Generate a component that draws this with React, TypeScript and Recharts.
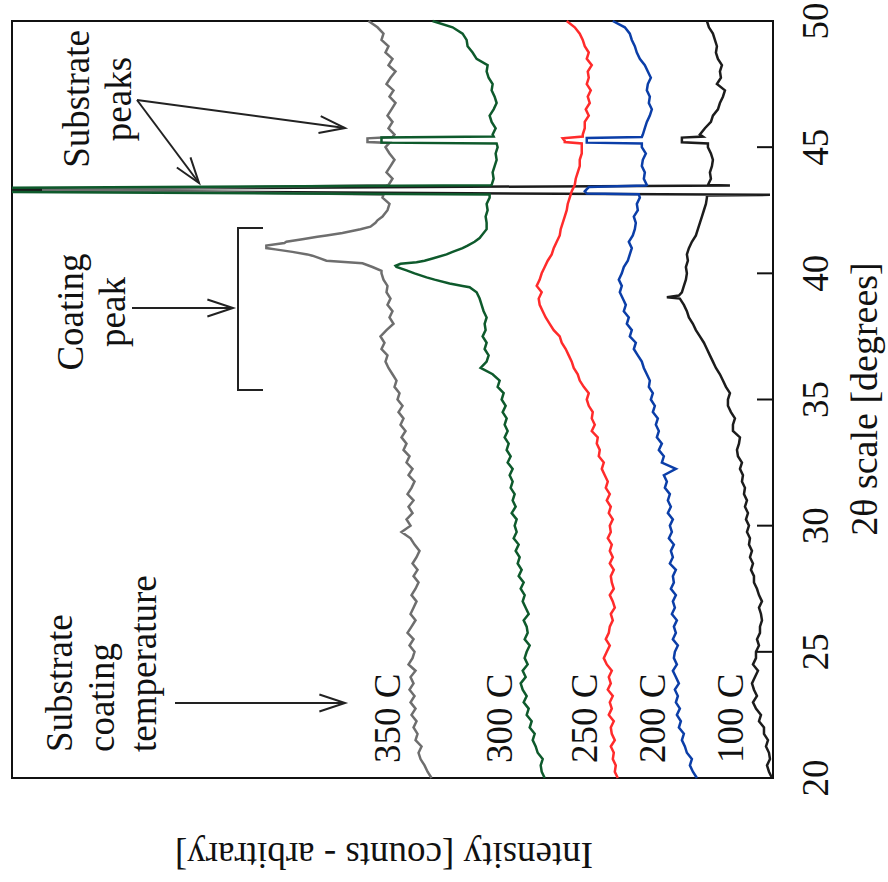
import React from 'react';
import { LineChart, Line, XAxis, YAxis, ReferenceArea } from 'recharts';

// 2θ grid (degrees) shared by every scan
const angles = [
  20, 20.25, 20.5, 20.75, 21, 21.25, 21.5, 21.75,
  22, 22.25, 22.5, 22.75, 23, 23.25, 23.5, 23.75,
  24, 24.25, 24.5, 24.75, 25, 25.25, 25.5, 25.75,
  26, 26.25, 26.5, 26.75, 27, 27.25, 27.5, 27.75,
  28, 28.25, 28.5, 28.75, 29, 29.25, 29.5, 29.75,
  30, 30.25, 30.5, 30.75, 31, 31.25, 31.5, 31.75,
  32, 32.25, 32.5, 32.75, 33, 33.25, 33.5, 33.75,
  34, 34.25, 34.5, 34.75, 35, 35.25, 35.5, 35.75,
  36, 36.25, 36.5, 36.75, 37, 37.25, 37.5, 37.75,
  38, 38.25, 38.5, 38.75, 39, 39.25, 39.5, 39.75,
  40, 40.25, 40.5, 40.75, 41, 41.25, 41.5, 41.75,
  42, 42.25, 42.5, 42.75, 43, 43.25, 43.5, 43.75,
  44, 44.25, 44.5, 44.75, 45, 45.25, 45.5, 45.75,
  46, 46.25, 46.5, 46.75, 47, 47.25, 47.5, 47.75,
  48, 48.25, 48.5, 48.75, 49, 49.25, 49.5, 49.75,
  50,
];

// intensities (arbitrary counts, offset per scan) on the grid above
const scan350 = [
  341, 345, 348, 352, 354, 351, 357, 355,
  359, 356, 361, 357, 362, 358, 363, 359,
  362, 357, 364, 360, 358, 363, 359, 365,
  361, 357, 362, 359, 356, 361, 357, 354,
  359, 355, 360, 356, 353, 358, 362, 371,
  362, 366, 360, 364, 359, 365, 361, 358,
  364, 360, 366, 363, 369, 366, 371, 367,
  372, 369, 374, 370, 375, 373, 378, 376,
  380, 384, 387, 385, 391, 388, 392, 386,
  379, 383, 380, 385, 382, 386, 385, 389,
  391, 400, 446, 465, 506, 486, 446, 412,
  397, 390, 385, 383, 390, 622, 384, 380,
  386, 382, 378, 383, 387, 405, 378, 384,
  380, 385, 381, 377, 383, 379, 386, 382,
  377, 384, 380, 387, 384, 391, 389, 395,
  404,
];
const scan300 = [
  228, 231, 232, 230, 235, 237, 240, 238,
  243, 241, 246, 244, 249, 246, 250, 252,
  247, 250, 245, 248, 246, 243, 248, 245,
  246, 249, 244, 247, 250, 248, 252, 249,
  254, 251, 255, 253, 257, 254, 259, 256,
  258, 256, 261, 257, 260, 258, 262, 260,
  263, 260, 265, 262, 266, 264, 268, 265,
  268, 266, 270, 267, 271, 269, 275, 273,
  280, 292, 286, 284, 288, 286, 290, 287,
  288, 286, 289, 291, 293, 296, 310, 338,
  358, 376, 348, 326, 310, 298, 291, 286,
  286, 287, 285, 286, 283, 860, 281, 279,
  280, 278, 276, 277, 275, 391, 280, 277,
  281, 283, 279, 276, 278, 281, 280, 284,
  286, 285, 296, 300, 305, 306, 310, 320,
  340,
];
const scan250 = [
  155, 158, 157, 160, 159, 162, 158, 161,
  162, 159, 164, 161, 163, 160, 165, 162,
  164, 161, 166, 169, 166, 163, 167, 164,
  163, 160, 162, 158, 160, 163, 159, 161,
  162, 159, 163, 160, 163, 161, 165, 162,
  163, 160, 164, 162, 166, 163, 167, 165,
  168, 171, 169, 174, 173, 176, 175, 181,
  178, 181, 180, 184, 186, 184, 189, 193,
  195, 199, 201, 204, 207, 211, 213, 219,
  223, 227, 230, 233, 234, 231, 236, 233,
  231, 228, 225, 221, 219, 216, 213, 212,
  210, 208, 206, 205, 203, 201, 198, 197,
  195, 193, 193, 191, 191, 208, 190, 188,
  188, 184, 187, 183, 185, 182, 186, 184,
  185, 181, 186, 184, 188, 190, 193, 198,
  206,
];
const scan200 = [
  76, 80, 83, 81, 86, 88, 91, 89,
  94, 92, 96, 93, 97, 95, 98, 94,
  97, 100, 96, 99, 98, 95, 100, 97,
  99, 96, 101, 98, 100, 97, 102, 99,
  100, 97, 103, 100, 102, 99, 104, 101,
  103, 100, 105, 102, 105, 103, 108, 106,
  109, 97, 111, 109, 114, 111, 116, 114,
  117, 115, 120, 118, 122, 120, 124, 123,
  126, 129, 131, 135, 139, 137, 143, 141,
  146, 144, 149, 147, 150, 153, 151, 154,
  151, 149, 145, 143, 141, 144, 140, 138,
  137, 139, 135, 136, 133, 188, 126, 129,
  128, 131, 130, 127, 131, 186, 130, 128,
  126, 123, 121, 124, 123, 126, 125, 122,
  125, 128, 133, 136, 138, 141, 143, 148,
  160,
];
const scan100 = [
  1, 4, 6, 3, 4, 7, 5, 9,
  9, 14, 12, 17, 20, 16, 19, 21,
  18, 15, 20, 17, 17, 14, 16, 13,
  13, 11, 12, 14, 11, 14, 16, 19,
  19, 22, 20, 23, 21, 24, 23, 26,
  24, 27, 25, 28, 26, 29, 28, 31,
  30, 33, 31, 35, 36, 34, 33, 40,
  40, 38, 42, 45, 45, 43, 47, 50,
  53, 57, 60, 63, 66, 69, 73, 77,
  80, 84, 86, 89, 93, 91, 89, 87,
  86, 87, 85, 86, 84, 81, 77, 75,
  73, 71, 69, 67, 66, 631, 65, 62,
  63, 61, 60, 62, 65, 91, 73, 68,
  62, 60, 55, 53, 50, 48, 56, 52,
  53, 51, 55, 57, 56, 58, 60, 64,
  66,
];

// finer readings around the coating peak and the substrate peaks: [2θ, intensity]
const extra350 = [
  [40.1, 391], [40.4, 410], [40.6, 453], [40.7, 460], [40.85, 480], [40.95, 497],
  [41.1, 506], [41.2, 488], [41.35, 470], [41.45, 455], [41.6, 430], [41.85, 402],
  [42.1, 395], [43.12, 389], [43.31, 730], [43.49, 386],
  [45.17, 383], [45.2, 405], [45.35, 405], [45.4, 380],
];
const extra300 = [
  [39.45, 303], [39.6, 323], [39.84, 346], [40.12, 366], [40.3, 377], [40.38, 372],
  [40.44, 356], [40.59, 340], [40.85, 320], [41.1, 305], [41.4, 293],
  [43.12, 283], [43.31, 1150], [43.49, 282],
  [45.15, 276], [45.18, 391], [45.38, 391], [45.42, 279],
];
const extra250 = [[45.15, 191], [45.2, 208], [45.35, 210], [45.42, 190]];
const extra200 = [
  [43.13, 134], [43.16, 186], [43.42, 184], [43.48, 127],
  [45.15, 131], [45.18, 186], [45.36, 186], [45.4, 131],
];
const extra100 = [
  [39.05, 106], [39.12, 94], [43.08, 66], [43.11, 3], [43.31, 900], [43.48, 43],
  [45.15, 65], [45.19, 91], [45.38, 91], [45.42, 70],
];

const tempLabels = ['350 C', '300 C', '250 C', '200 C', '100 C'];
const xTicks = [20, 25, 30, 35, 40, 45, 50];

const toPoints = (vals: number[], extra: number[][]) =>
  angles
    .map((t, i) => ({ t, v: vals[i] }))
    .concat(extra.map(([t, v]) => ({ t, v })))
    .sort((a, b) => a.t - b.t);

const series = [
  { name: '100 C', data: toPoints(scan100, extra100), color: '#1c1c1c' },
  { name: '250 C', data: toPoints(scan250, extra250), color: '#ff2b2b' },
  { name: '200 C', data: toPoints(scan200, extra200), color: '#0b3ea8' },
  { name: '350 C', data: toPoints(scan350, extra350), color: '#6e6e6e' },
  { name: '300 C', data: toPoints(scan300, extra300), color: '#0e5a2c' },
];

const FONT = '"Liberation Serif", "Times New Roman", serif';

const AngleTick = (props: any) => {
  const { x, y, payload } = props;
  return (
    <g>
      <line x1={x} y1={y - 16} x2={x} y2={y} stroke="#111" strokeWidth={2} />
      <text x={x} y={y + 55} textAnchor="middle" fontSize={37} fontFamily={FONT} fill="#111">
        {payload.value}
      </text>
    </g>
  );
};

const Arrow = ({ x1, y1, x2, y2 }: { x1: number; y1: number; x2: number; y2: number }) => {
  const a = Math.atan2(y2 - y1, x2 - x1);
  const L = 27;
  const w = 0.32;
  const p1 = `${x2 - L * Math.cos(a - w)},${y2 - L * Math.sin(a - w)}`;
  const p2 = `${x2 - L * Math.cos(a + w)},${y2 - L * Math.sin(a + w)}`;
  return (
    <g stroke="#222" strokeWidth={2} fill="none">
      <line x1={x1} y1={y1} x2={x2} y2={y2} />
      <polyline points={`${p1} ${x2},${y2} ${p2}`} />
    </g>
  );
};

const labelBaselines = [400, 512, 597, 665, 743];

export default function App() {
  return (
    <div style={{ position: 'fixed', left: 0, top: 0, width: 888, height: 882, overflow: 'hidden', background: '#fff' }}>
      {/* the figure is laid out as a normal XRD plot, then turned 90° counter-clockwise */}
      <div
        style={{
          position: 'absolute',
          left: 0,
          top: 0,
          width: 882,
          height: 888,
          transformOrigin: '0 0',
          transform: 'translate(0px, 882px) rotate(-90deg)',
        }}
      >
        <LineChart width={882} height={888} margin={{ top: 12, right: 21, bottom: 0, left: 0 }}>
          <XAxis
            type="number"
            dataKey="t"
            domain={[20, 50]}
            ticks={xTicks}
            interval={0}
            height={115}
            tickSize={0}
            tickMargin={0}
            tickLine={false}
            axisLine={false}
            tick={<AngleTick />}
          />
          <YAxis type="number" domain={[0, 760]} width={104} tick={false} axisLine={false} tickLine={false} allowDataOverflow />
          {series.map((s) => (
            <Line
              key={s.name}
              data={s.data}
              dataKey="v"
              type="linear"
              stroke={s.color}
              strokeWidth={2.5}
              dot={false}
              isAnimationActive={false}
            />
          ))}
          <ReferenceArea x1={20} x2={50} y1={0} y2={760} fill="none" stroke="#111" strokeWidth={2} />
        </LineChart>

        <svg
          width={882}
          height={888}
          style={{ position: 'absolute', left: 0, top: 0, pointerEvents: 'none' }}
          fontFamily={FONT}
          fill="#111"
        >
          <text x={483} y={877} textAnchor="middle" fontSize={38}>2θ scale [degrees]</text>
          <text transform="translate(39,384) rotate(-90)" textAnchor="middle" fontSize={37}>
            Intensity [counts - arbitrary]
          </text>

          <text x={783} y={89} textAnchor="middle" fontSize={37}>Substrate</text>
          <text x={783} y={131} textAnchor="middle" fontSize={37}>peaks</text>
          <Arrow x1={782} y1={137} x2={754} y2={345} />
          <Arrow x1={782} y1={137} x2={699} y2={199} />

          <text x={570} y={83} textAnchor="middle" fontSize={37}>Coating</text>
          <text x={570} y={125} textAnchor="middle" fontSize={37}>peak</text>
          <Arrow x1={574} y1={132} x2={574} y2={233} />
          <polyline points="492,263 492,238 654,238 654,263" stroke="#222" strokeWidth={2} fill="none" />

          <text x={130} y={72} fontSize={37}>Substrate</text>
          <text x={130} y={114} fontSize={37}>coating</text>
          <text x={130} y={156} fontSize={37}>temperature</text>
          <Arrow x1={179} y1={175} x2={179} y2={345} />

          {tempLabels.map((t, i) => (
            <text key={t} x={119} y={labelBaselines[i]} fontSize={37}>{t}</text>
          ))}
        </svg>
      </div>
    </div>
  );
}
